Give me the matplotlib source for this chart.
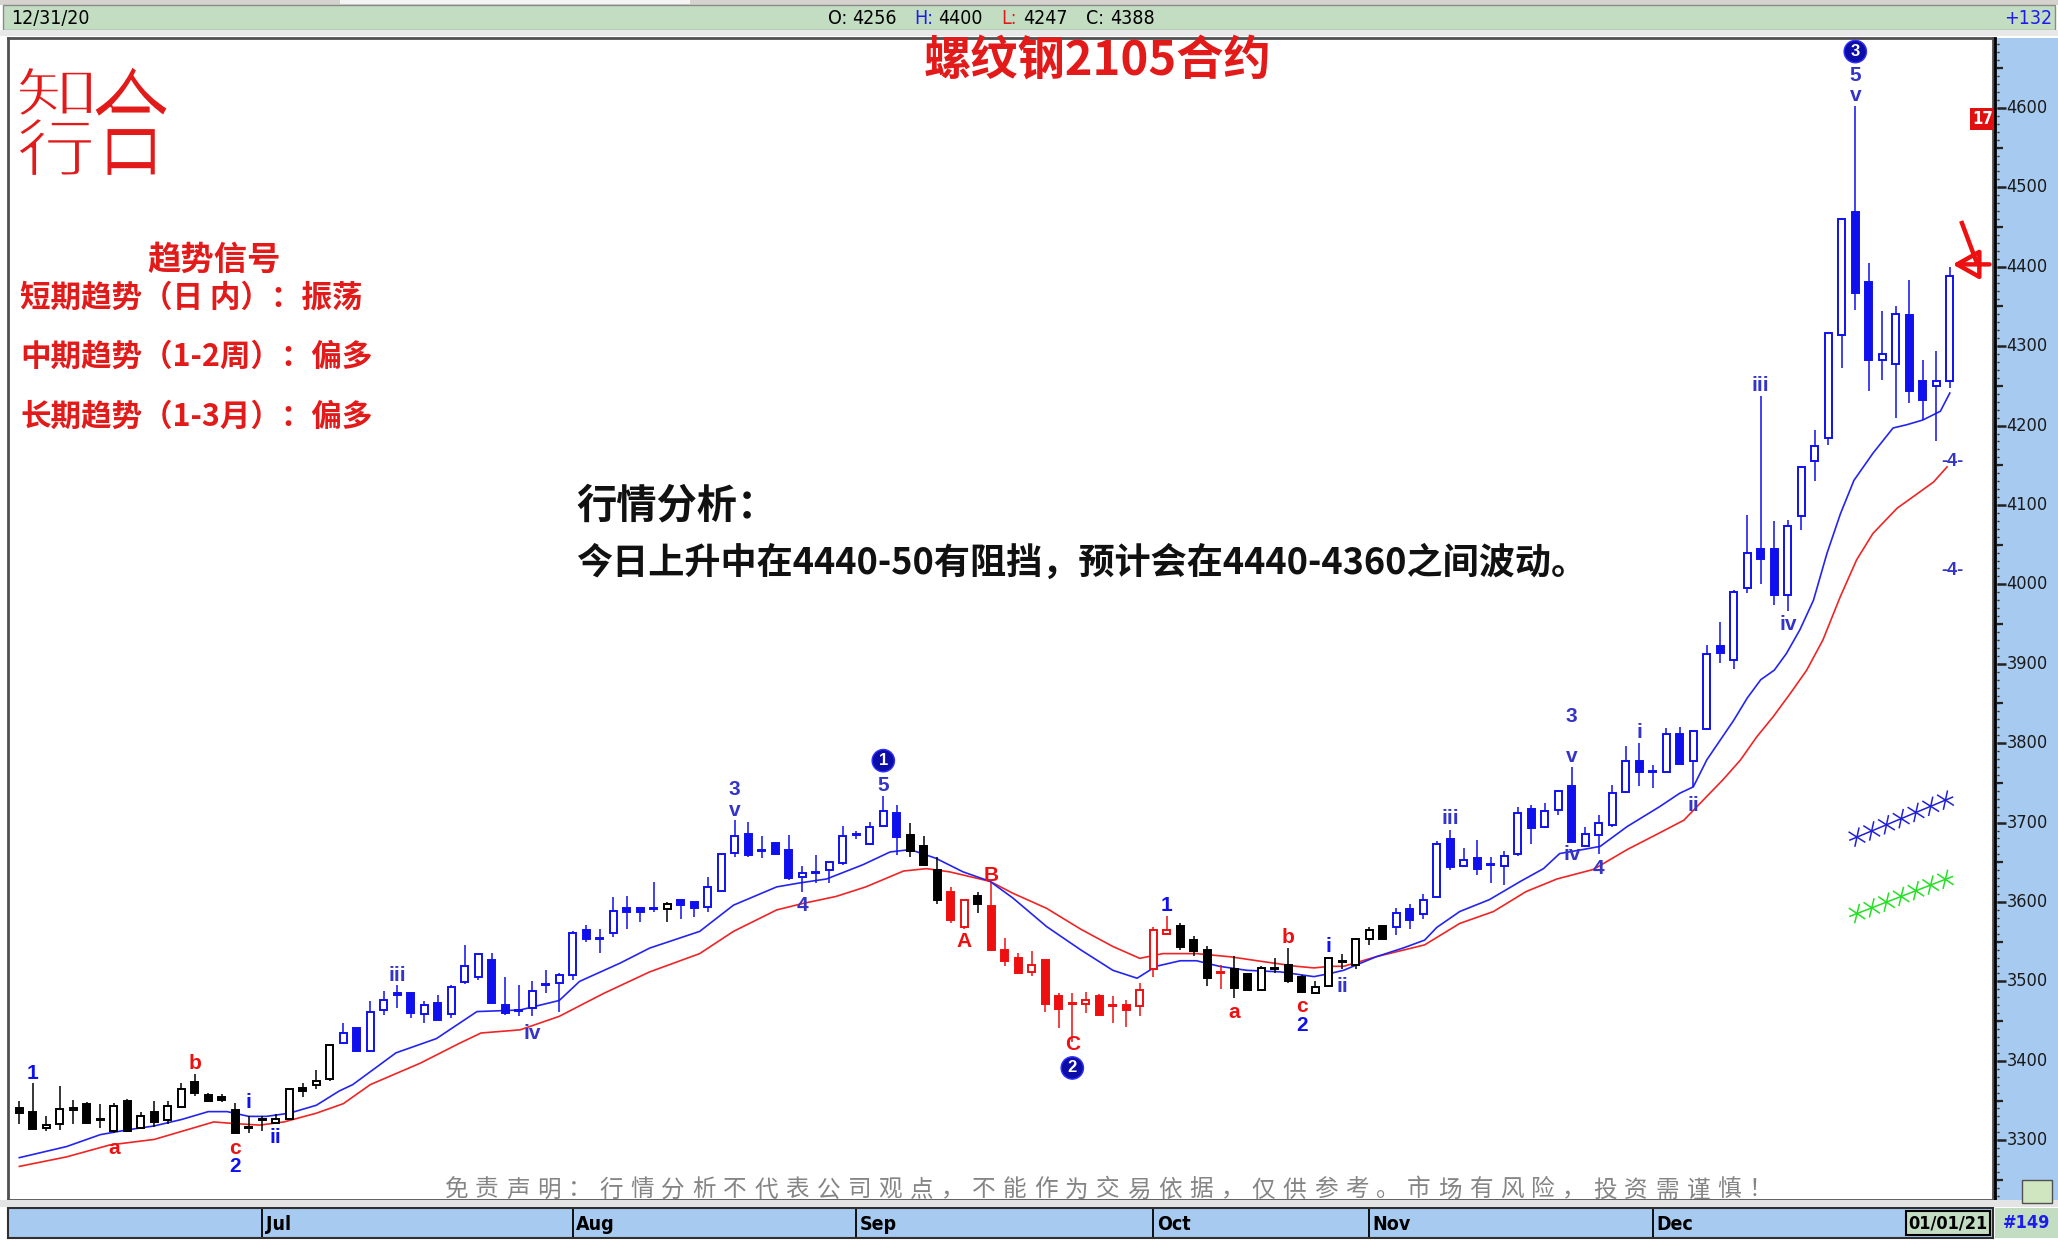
import matplotlib
matplotlib.use('Agg')
import matplotlib.pyplot as plt
import matplotlib.patheffects as pe
from matplotlib.patches import Rectangle, PathPatch
from matplotlib.textpath import TextPath
from matplotlib.font_manager import FontProperties
from matplotlib.transforms import Affine2D, IdentityTransform

plt.rcParams['font.family'] = ['Noto Sans CJK SC', 'DejaVu Sans']

# ---- daily bars, 2020-06-03 .. 2020-12-31 (bar index 0..143) ----
opens = [3340, 3336, 3315, 3320, 3338, 3346, 3327, 3311, 3349, 3315, 3336, 3325, 3342, 3373, 3357, 3355,
         3338, 3317, 3326, 3322, 3327, 3366, 3370, 3377, 3423, 3441, 3412, 3464, 3485, 3486, 3459, 3473,
         3459, 3499, 3506, 3527, 3470, 3464, 3466, 3496, 3498, 3508, 3565, 3554, 3561, 3593, 3593, 3592,
         3591, 3602, 3600, 3594, 3614, 3662, 3686, 3665, 3674, 3666, 3632, 3638, 3640, 3649, 3685, 3673,
         3696, 3712, 3685, 3670, 3640, 3612, 3568, 3607, 3595, 3540, 3529, 3512, 3527, 3482, 3472, 3472,
         3481, 3470, 3470, 3469, 3516, 3560, 3570, 3552, 3540, 3512, 3516, 3509, 3489, 3517, 3521, 3505,
         3486, 3494, 3525, 3521, 3554, 3570, 3568, 3591, 3585, 3606, 3679, 3645, 3655, 3648, 3645, 3660,
         3717, 3694, 3716, 3746, 3671, 3684, 3697, 3739, 3777, 3765, 3764, 3812, 3777, 3818, 3922, 3905,
         3995, 4045, 4045, 3987, 4086, 4156, 4184, 4314, 4469, 4381, 4283, 4278, 4339, 4256, 4250, 4256]
highs = [3349, 3372, 3330, 3368, 3351, 3348, 3345, 3347, 3352, 3336, 3349, 3349, 3372, 3384, 3359, 3358,
         3347, 3330, 3330, 3333, 3365, 3372, 3388, 3421, 3447, 3441, 3475, 3488, 3495, 3487, 3475, 3483,
         3495, 3546, 3535, 3536, 3506, 3495, 3500, 3514, 3510, 3563, 3571, 3566, 3606, 3608, 3594, 3625,
         3600, 3603, 3600, 3631, 3661, 3703, 3701, 3683, 3675, 3685, 3645, 3659, 3651, 3696, 3689, 3701,
         3733, 3722, 3699, 3683, 3657, 3619, 3603, 3612, 3624, 3555, 3536, 3538, 3527, 3485, 3486, 3487,
         3484, 3482, 3476, 3498, 3568, 3582, 3574, 3557, 3545, 3521, 3532, 3510, 3519, 3530, 3542, 3508,
         3500, 3531, 3534, 3555, 3568, 3571, 3592, 3598, 3610, 3677, 3691, 3668, 3678, 3657, 3664, 3720,
         3722, 3725, 3741, 3770, 3695, 3710, 3747, 3796, 3800, 3772, 3819, 3820, 3817, 3924, 3952, 3993,
         4087, 4237, 4080, 4081, 4149, 4194, 4316, 4460, 4602, 4405, 4344, 4350, 4383, 4283, 4294, 4400]
lows = [3321, 3313, 3311, 3313, 3321, 3321, 3316, 3309, 3310, 3314, 3317, 3321, 3340, 3356, 3348, 3348,
        3308, 3309, 3311, 3321, 3325, 3355, 3365, 3374, 3422, 3411, 3411, 3458, 3466, 3454, 3447, 3452,
        3454, 3497, 3502, 3472, 3458, 3456, 3456, 3485, 3462, 3502, 3550, 3536, 3556, 3566, 3575, 3588,
        3575, 3579, 3581, 3587, 3612, 3657, 3657, 3655, 3659, 3628, 3613, 3624, 3624, 3647, 3679, 3672,
        3696, 3659, 3657, 3645, 3598, 3574, 3566, 3586, 3540, 3519, 3509, 3507, 3462, 3441, 3424, 3460,
        3457, 3447, 3443, 3456, 3506, 3558, 3540, 3532, 3494, 3491, 3479, 3488, 3488, 3510, 3498, 3486,
        3484, 3493, 3516, 3515, 3546, 3553, 3558, 3566, 3578, 3605, 3640, 3644, 3634, 3624, 3621, 3658,
        3673, 3693, 3710, 3675, 3671, 3661, 3695, 3737, 3746, 3743, 3764, 3773, 3745, 3817, 3901, 3894,
        3989, 4000, 3974, 3966, 4069, 4130, 4176, 4272, 4346, 4243, 4258, 4209, 4229, 4207, 4180, 4247]
closes = [3334, 3314, 3319, 3339, 3341, 3322, 3325, 3343, 3311, 3330, 3323, 3343, 3365, 3359, 3349, 3351,
          3309, 3316, 3325, 3327, 3364, 3362, 3374, 3420, 3435, 3412, 3461, 3477, 3483, 3460, 3470, 3452,
          3493, 3519, 3534, 3473, 3460, 3463, 3488, 3495, 3508, 3561, 3554, 3553, 3589, 3587, 3587, 3591,
          3597, 3596, 3592, 3619, 3661, 3683, 3659, 3664, 3660, 3630, 3637, 3637, 3650, 3683, 3684, 3695,
          3714, 3682, 3664, 3647, 3603, 3577, 3602, 3598, 3540, 3526, 3510, 3521, 3472, 3465, 3471, 3477,
          3458, 3469, 3464, 3489, 3565, 3565, 3543, 3538, 3504, 3511, 3492, 3489, 3517, 3515, 3500, 3487,
          3493, 3530, 3524, 3553, 3565, 3554, 3586, 3577, 3603, 3673, 3644, 3653, 3641, 3647, 3658, 3712,
          3693, 3714, 3740, 3676, 3686, 3699, 3737, 3777, 3764, 3764, 3812, 3774, 3815, 3912, 3913, 3990,
          4040, 4032, 3987, 4073, 4148, 4174, 4316, 4460, 4367, 4282, 4290, 4340, 4244, 4232, 4256, 4388]
# wave colouring of each bar: k = neutral, b = impulse, r = correction
bar_colors = ('kkkkkkkkkkkkkkkkkkkkkkkk'
              'bbbbbbbbbbbbbbbbbbbbbbbb'
              'kbbbbbbbbbbbbbbbbbkkkrrkrr'
              'rrrrrrrrrrrrkkkrkkkkkkkkkkkk'
              'bbbbbbbbbbbbbbbbbbbbbbbbbbbbbbbbbbbbbbbbbbb')

# moving averages (bar position, value)
ma_fast_x = [0, 3.5, 6, 8, 10, 12, 14, 15.4, 17, 18.3, 20, 22, 23.7, 24.7, 27.9, 30.9, 33.9, 37.1, 40,
             41.5, 44.5, 46.7, 50.4, 52.9, 56.1, 57.8, 59.8, 62.5, 64.5, 66, 67.9, 69.9, 71.9, 73.6, 76.1,
             78.6, 81, 82.8, 84.2, 86, 87.2, 88.9, 90.9, 93.4, 95.9, 97.1, 98.1, 100.5, 102.5, 104.1, 105,
             106.7, 108.9, 111.2, 112.9, 114.1, 115.8, 117.1, 119.1, 121.5, 123, 124, 125, 126, 127, 128,
             129, 130, 130.9, 131.9, 132.9, 133.9, 134.9, 135.9, 137.3, 138.8, 139.8, 141, 142.3, 143]
ma_fast_y = [3278, 3292, 3307, 3313, 3318, 3326, 3336, 3336, 3330, 3330, 3334, 3344, 3362, 3370, 3410, 3428,
             3462, 3464, 3476, 3500, 3523, 3542, 3563, 3596, 3619, 3624, 3629, 3647, 3663, 3666, 3655, 3638,
             3626, 3605, 3569, 3540, 3514, 3504, 3519, 3526, 3526, 3519, 3514, 3512, 3506, 3510, 3514, 3531,
             3542, 3552, 3568, 3588, 3603, 3626, 3642, 3661, 3666, 3670, 3695, 3720, 3737, 3745, 3779, 3804,
             3829, 3857, 3880, 3892, 3913, 3943, 3980, 4039, 4089, 4131, 4165, 4197, 4201, 4207, 4218, 4241]
ma_slow_x = [0, 3.5, 6.7, 10, 12.4, 14.4, 15.9, 17.8, 19.6, 22, 24, 26, 29.7, 32.6, 34.2, 37.1, 40, 43.3,
             46.7, 50.4, 52.9, 56.1, 58, 60.5, 62.7, 65.5, 67.2, 68.9, 71.9, 73.6, 76.1, 78.6, 81, 83, 84.7,
             87.2, 89.7, 92.1, 94.6, 95.9, 97.1, 98.1, 100.5, 104.1, 106.7, 109.2, 111.6, 113.9, 116.6,
             119.1, 121.5, 123.3, 125, 126.2, 127.5, 128.7, 129.9, 131.2, 132.4, 133.6, 134.9, 136.1,
             137.3, 139.1, 140.5, 141.8, 142.8]
ma_slow_y = [3267, 3279, 3294, 3301, 3313, 3323, 3321, 3319, 3323, 3334, 3346, 3370, 3397, 3422, 3435, 3439,
             3456, 3485, 3512, 3535, 3563, 3590, 3598, 3607, 3619, 3639, 3642, 3638, 3626, 3611, 3592, 3566,
             3544, 3529, 3535, 3535, 3531, 3525, 3519, 3517, 3519, 3519, 3531, 3546, 3573, 3588, 3613, 3629,
             3641, 3666, 3687, 3703, 3733, 3754, 3779, 3808, 3833, 3863, 3892, 3930, 3985, 4031, 4064, 4096,
             4113, 4129, 4148]

# projection lines at the right edge
proj_x = [135.6, 143.2]
proj_upper = [3678, 3732]
proj_lower = [3582, 3632]

# wave counts
wave_x = [1, 7, 13, 16, 16, 17, 19, 28, 38, 53, 53, 58, 64, 70, 72, 78, 85, 90, 94, 95, 95, 97, 98,
          106, 115, 115, 115, 117, 120, 124, 129, 131, 136, 136]
wave_y = [3384, 3290, 3397, 3290, 3267, 3347, 3304, 3508, 3435, 3742, 3715, 3596, 3747, 3550, 3633, 3420,
          3596, 3461, 3555, 3468, 3445, 3544, 3493, 3705, 3834, 3783, 3660, 3642, 3813, 3722, 4251, 3949,
          4641, 4616]
wave_text = ['1', 'a', 'b', 'c', '2', 'i', 'ii', 'iii', 'iv', '3', 'v', '4', '5', 'A', 'B', 'C', '1', 'a',
             'b', 'c', '2', 'i', 'ii', 'iii', '3', 'v', 'iv', '4', 'i', 'ii', 'iii', 'iv', '5', 'v']
wave_col = ['b', 'r', 'r', 'r', 'b', 'b', 'b', 'p', 'p', 'p', 'p', 'p', 'p', 'r', 'r', 'r', 'b', 'r',
            'r', 'r', 'b', 'b', 'p', 'p', 'p', 'p', 'p', 'p', 'p', 'p', 'p', 'p', 'p', 'p']
circle_x = [64, 78, 136]
circle_y = [3778, 3391, 4671]
circle_text = ['1', '2', '3']

months = ['Jul', 'Aug', 'Sep', 'Oct', 'Nov', 'Dec']
month_start = [18, 41, 62, 84, 100, 121]
price_ticks = list(range(3300, 4601, 100))

title = '螺纹钢2105合约'
signal_head = '趋势信号'
signal_lines = ['短期趋势（日 内）：振荡', '中期趋势（1-2周）：偏多', '长期趋势（1-3月）：偏多']
view_head = '行情分析：'
view_text = '今日上升中在4440-50有阻挡，预计会在4440-4360之间波动。'
disclaimer = '免责声明：行情分析不代表公司观点，不能作为交易依据，仅供参考。市场有风险，投资需谨慎！'

W, H = 2058, 1244
RED = '#e21a1a'
BLUE = '#1c1cf0'
PURPLE = '#3434c8'
palette = {'k': '#000000', 'b': '#1010ee', 'r': '#ee1010', 'p': PURPLE}
NARROW = dict(family=['Liberation Sans Narrow', 'DejaVu Sans'], fontstretch='condensed')
ARIAL = ['Liberation Sans', 'DejaVu Sans']
CJK = ['Noto Sans CJK SC', 'DejaVu Sans']


def frect(x0, y0, x1, y1):
    return [x0 / W, 1 - y1 / H, (x1 - x0) / W, (y1 - y0) / H]


def fpt(x, y):
    return x / W, 1 - y / H


def fbox(x0, y0, x1, y1, fc, ec='none', lw=0):
    fig.add_artist(Rectangle(fpt(x0, y1), (x1 - x0) / W, (y1 - y0) / H, transform=fig.transFigure,
                             facecolor=fc, edgecolor=ec, lw=lw))


fig = plt.figure(figsize=(W / 100, H / 100), dpi=100, facecolor='white')

# window chrome
fbox(0, 0, W, 5, '#d6d3ce')
fbox(340, 0, 690, 4, '#f4f4f4')
fbox(3, 5, W - 3, 30, '#c3ddc3', '#8a8a8a', 1)
fbox(0, 30, W, 36, '#e8e8e8')
fig.text(*fpt(11, 18), '12/31/20', fontsize=14, va='center', ha='left', **NARROW)
for xx, s, c in [(828, 'O:', 'black'), (852, '4256', 'black'), (914, 'H:', BLUE), (938, '4400', 'black'),
                 (1001, 'L:', RED), (1023, '4247', 'black'), (1086, 'C:', 'black'), (1110, '4388', 'black')]:
    fig.text(*fpt(xx, 18), s, fontsize=14, va='center', ha='left', color=c, **NARROW)
fig.text(*fpt(2052, 18), '+132', fontsize=14, va='center', ha='right', color=BLUE, **NARROW)

# ---- price panel ----
xlo = (8 - 19.3) / 13.5
xhi = xlo + 1985 / 13.5
ylo, yhi = 3224.7, 4688.1
ax = fig.add_axes(frect(8, 38, 1993, 1200))
ax.set_xlim(xlo, xhi)
ax.set_ylim(ylo, yhi)
ax.set_xticks([])
ax.set_yticks([])
for sp in ax.spines.values():
    sp.set_color('#505050')
    sp.set_linewidth(2)

ax.plot(ma_slow_x, ma_slow_y, color='#f02424', lw=1.2, zorder=2)
ax.plot(ma_fast_x, ma_fast_y, color='#2424f0', lw=1.2, zorder=2)

bw = 0.5
for i in range(len(opens)):
    o, h, l, c = opens[i], highs[i], lows[i], closes[i]
    col = palette[bar_colors[i]]
    ax.vlines(i, l, h, color=col, lw=1.1, zorder=3)
    face = col if c < o else 'white'
    ax.add_patch(Rectangle((i - bw / 2, min(o, c)), bw, max(abs(c - o), 1.2),
                           facecolor=face, edgecolor=col, lw=1.4, zorder=4))

for x, y, s, c in zip(wave_x, wave_y, wave_text, wave_col):
    ax.text(x, y, s, color=palette[c], family=ARIAL, fontweight='bold', fontsize=15,
            ha='center', va='center', zorder=5)
for x, y, s in zip(circle_x, circle_y, circle_text):
    ax.text(x, y, s, color='white', family=ARIAL, fontweight='bold', fontsize=12, ha='center',
            va='center', zorder=6,
            bbox=dict(boxstyle='circle,pad=0.22', facecolor='#0c0ca8', edgecolor='#3030ff', lw=1))

ticks = [pe.TickedStroke(spacing=11, angle=a, length=0.6) for a in (55, -125, 125, -55)]
ax.plot(proj_x, proj_upper, color='#2020d8', lw=1.1, path_effects=[pe.Stroke()] + ticks, zorder=3)
ax.plot(proj_x, proj_lower, color='#22e022', lw=1.1, path_effects=[pe.Stroke()] + ticks, zorder=3)
ax.text(143.2, 4155, '-4-', color=PURPLE, family=ARIAL, fontweight='bold', fontsize=13,
        ha='center', va='center')
ax.text(143.2, 4018, '-4-', color=PURPLE, family=ARIAL, fontweight='bold', fontsize=13,
        ha='center', va='center')
ax.text(xhi, 4586, '17', color='white', fontweight='bold', fontsize=12, ha='right',
        va='center', bbox=dict(boxstyle='square,pad=0.12', facecolor='#e01010', edgecolor='none'), **NARROW)
# hand-drawn style pointer at the last bar's high
last = len(opens) - 1
ax.annotate('', xy=(last, highs[-1] + 3), xytext=(xhi - 0.05, highs[-1] + 3),
            arrowprops=dict(arrowstyle='-|>,head_length=1.6,head_width=0.9', color='#ee1010', lw=3.2,
                            fill=False))
ax.plot([last + 0.9, last + 2.0], [highs[-1] + 55, highs[-1] + 5], color='#ee1010', lw=3.2, zorder=6)

# ---- right price scale ----
axr = fig.add_axes(frect(1995, 38, W, 1200))
axr.set_facecolor('#a6caf0')
axr.set_ylim(ylo, yhi)
axr.set_xlim(0, 1)
axr.set_xticks([])
axr.set_yticks([])
for sp in axr.spines.values():
    sp.set_visible(False)
axr.spines['left'].set_visible(True)
axr.spines['left'].set_linewidth(2)
axr.hlines(range(3230, 4690, 10), 0.03, 0.07, color='#222222', lw=1)
axr.hlines(range(3250, 4690, 100), 0.03, 0.13, color='#222222', lw=1.6)
axr.hlines(price_ticks, 0.03, 0.17, color='#222222', lw=1.8)
for v in price_ticks:
    axr.text(0.18, v, str(v), fontsize=13, va='center', ha='left', color='#1a1a1a', **NARROW)

# ---- date strip ----
fbox(0, 1200, W, 1207, '#e4e4e4')
axb = fig.add_axes(frect(8, 1208, 1993, 1238))
axb.set_facecolor('#a6caf0')
axb.set_xlim(xlo, xhi)
axb.set_ylim(0, 1)
axb.set_xticks([])
axb.set_yticks([])
for sp in axb.spines.values():
    sp.set_color('#303030')
    sp.set_linewidth(1.5)
for pos, name in zip(month_start, months):
    axb.axvline(pos, color='black', lw=1.3)
    axb.text(pos + 0.25, 0.45, name, fontsize=14, fontweight='bold', va='center', ha='left', **NARROW)
fbox(1995, 1208, W, 1238, '#c3ddc3')
fig.text(*fpt(1948, 1223), '01/01/21', fontsize=13, fontweight='bold', ha='center',
         va='center', bbox=dict(boxstyle='square,pad=0.15', facecolor='#c3ddc3', edgecolor='black', lw=1.5),
         **NARROW)
fig.text(*fpt(2027, 1223), '#149', fontsize=13, fontweight='bold', ha='center',
         va='center', color=BLUE, **NARROW)
fbox(2022, 1180, 2052, 1203, '#cfe6c0', '#505050', 1)

# ---- logo: thin red strokes, white edge trims the glyph weight ----
logo_font = FontProperties(family='Noto Sans CJK SC', weight='light')
for ch, x0, y0, x1, y1 in [('知', 18, 67, 92, 116), ('行', 18, 118, 92, 176), ('合', 94, 66, 168, 176)]:
    p = TextPath((0, 0), ch, size=100, prop=logo_font)
    bb = p.get_extents()
    tr = (Affine2D().translate(-bb.x0, -bb.y0)
          .scale((x1 - x0) / bb.width, (y1 - y0) / bb.height)
          .translate(x0, H - y1))
    fig.add_artist(PathPatch(tr.transform_path(p), facecolor=RED, edgecolor='white', lw=1.6,
                             transform=IdentityTransform()))

# ---- texts ----
fig.text(*fpt(1097, 62), title, family=CJK, fontsize=34, fontweight='bold', color=RED,
         ha='center', va='center')
fig.text(*fpt(214, 260), signal_head, family=CJK, fontsize=24, fontweight='bold', color=RED,
         ha='center', va='center')
for yy, s in zip([298, 357, 417], signal_lines):
    fig.text(*fpt(20, yy), s, family=CJK, fontsize=22, fontweight='bold', color=RED,
             ha='left', va='center')
fig.text(*fpt(576, 506), view_head, family=CJK, fontsize=29, fontweight='bold', color='#111111',
         ha='left', va='center')
fig.text(*fpt(576, 563), view_text, family=CJK, fontsize=26, fontweight='bold', color='#111111',
         ha='left', va='center')
step = (1776 - 440) / len(disclaimer)
for k, ch in enumerate(disclaimer):
    fig.text(*fpt(440 + step * (k + 0.5), 1190), ch, family=CJK, fontsize=17, color='#858585',
             ha='center', va='center')

fig.savefig('out.png', dpi=100, facecolor='white')
